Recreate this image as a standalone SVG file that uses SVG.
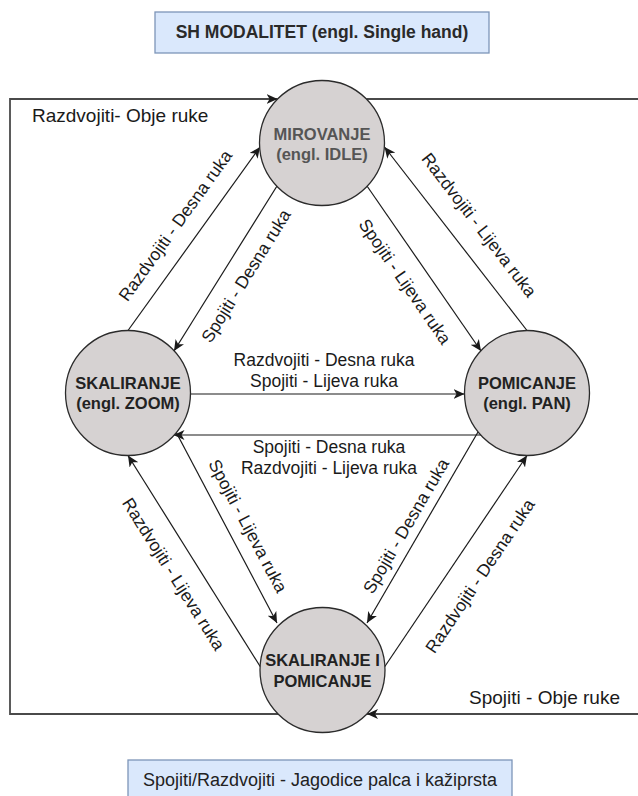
<svg xmlns="http://www.w3.org/2000/svg" width="638" height="796" viewBox="0 0 638 796">
<defs>
<style>
.box{fill:#dae8fc;stroke:#7d95b8;stroke-width:1.3}
.node circle{fill:#d6d2d2;stroke:#2b2b2b;stroke-width:1.3}
text{font-family:"Liberation Sans",Arial,sans-serif}
.nl{font-size:16.5px;font-weight:bold;fill:#222;text-anchor:middle}
.el{font-size:17.5px;fill:#1a1a1a;text-anchor:middle;dominant-baseline:central}
.bl{font-size:18px;fill:#222;text-anchor:middle}
.tl{font-size:17.5px;font-weight:bold;fill:#2a2a2a;text-anchor:middle}
.ll{font-size:19px;fill:#1a1a1a}
.edge{stroke:#1a1a1a;stroke-width:1.2;fill:none;marker-end:url(#arr)}
.loop{stroke:#4a4a4a;stroke-width:1.8;fill:none}
</style>
<marker id="arr" markerUnits="userSpaceOnUse" markerWidth="12" markerHeight="10" viewBox="0 0 12 10" refX="11" refY="5" orient="auto">
<path d="M0,0 L11,5 L0,10 L3,5 Z" fill="#1a1a1a"/>
</marker>
</defs>
<rect width="638" height="796" fill="#ffffff"/>

<g id="title">
<rect class="box" x="155" y="12" width="334" height="41"/>
<text class="tl" x="322" y="38">SH MODALITET (engl. Single hand)</text>
</g>

<g id="legend">
<rect class="box" x="128" y="760" width="384" height="40"/>
<text class="bl" x="320" y="786">Spojiti/Razdvojiti - Jagodice palca i kažiprsta</text>
</g>

<g id="connectors">
<path class="loop" d="M278,714 L10,714 L10,99 L277.6,99" marker-end="url(#arr)"/>
<path class="loop" d="M366.4,99 L660,99 L660,714 L367,714" marker-end="url(#arr)"/>
<text class="ll" x="32" y="122">Razdvojiti- Obje ruke</text>
<text class="ll" x="469" y="704">Spojiti - Obje ruke</text>

<line class="edge" x1="128" y1="330.5" x2="260" y2="147"/>
<text class="el" transform="translate(175.3,225.6) rotate(-54.3)">Razdvojiti - Desna ruka</text>

<line class="edge" x1="277" y1="186" x2="174" y2="351"/>
<text class="el" transform="translate(246,276) rotate(-58.1)">Spojiti - Desna ruka</text>

<line class="edge" x1="367" y1="186" x2="481" y2="351"/>
<text class="el" transform="translate(405,281.6) rotate(55.3)">Spojiti - Lijeva ruka</text>

<line class="edge" x1="527" y1="330.5" x2="384.5" y2="147"/>
<text class="el" transform="translate(479,225) rotate(52.5)">Razdvojiti - Lijeva ruka</text>

<line class="edge" x1="190.5" y1="394" x2="464.5" y2="394"/>
<text class="el" x="324" y="360">Razdvojiti - Desna ruka</text>
<text class="el" x="324" y="381">Spojiti - Lijeva ruka</text>

<line class="edge" x1="481.5" y1="435" x2="173.5" y2="435"/>
<text class="el" x="329" y="447">Spojiti - Desna ruka</text>
<text class="el" x="329" y="468">Razdvojiti - Lijeva ruka</text>

<line class="edge" x1="260.5" y1="667" x2="128" y2="455.5"/>
<text class="el" transform="translate(173.5,574) rotate(57.7)">Razdvojiti - Lijeva ruka</text>

<line class="edge" x1="176" y1="432" x2="277" y2="623"/>
<text class="el" transform="translate(248,526) rotate(62.1)">Spojiti - Lijeva ruka</text>

<line class="edge" x1="478" y1="432" x2="367" y2="623"/>
<text class="el" transform="translate(406,526) rotate(-59.8)">Spojiti - Desna ruka</text>

<line class="edge" x1="384.5" y1="667" x2="527" y2="455.5"/>
<text class="el" transform="translate(480,576) rotate(-56.1)">Razdvojiti - Desna ruka</text>
</g>

<g id="mirovanje" class="node">
<circle cx="322" cy="143" r="62.5"/>
<text class="nl" x="322" y="140" style="fill:#555">MIROVANJE</text>
<text class="nl" x="322" y="160" style="fill:#555">(engl. IDLE)</text>
</g>

<g id="skaliranje" class="node">
<circle cx="128" cy="393" r="62.5"/>
<text class="nl" x="128" y="389">SKALIRANJE</text>
<text class="nl" x="128" y="409">(engl. ZOOM)</text>
</g>

<g id="pomicanje" class="node">
<circle cx="527" cy="393" r="62.5"/>
<text class="nl" x="527" y="389">POMICANJE</text>
<text class="nl" x="527" y="409">(engl. PAN)</text>
</g>

<g id="skaliranje-pomicanje" class="node">
<circle cx="322.5" cy="670" r="62.5"/>
<text class="nl" x="322.5" y="666">SKALIRANJE I</text>
<text class="nl" x="322.5" y="687">POMICANJE</text>
</g>
</svg>
